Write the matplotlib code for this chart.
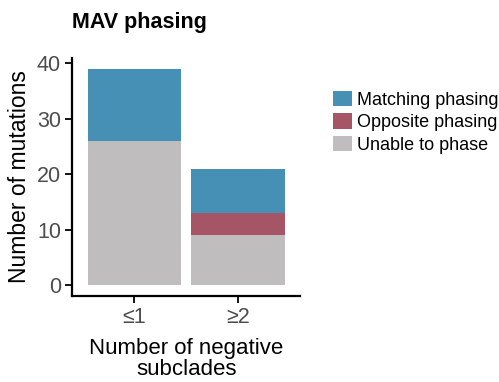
import numpy as np
import matplotlib.pyplot as plt

plt.rcParams['font.family'] = ['Liberation Sans', 'DejaVu Sans']

categories = ["≤1", "≥2"]
unable = [26, 9]
opposite = [0, 4]
matching = [13, 8]

c_match = "#4790B5"
c_opp = "#A65566"
c_unable = "#BFBDBE"

fig = plt.figure(figsize=(4.99, 3.82), dpi=100)
ax = fig.add_axes([0.1443, 0.225, 0.457, 0.623])

x = np.arange(1, len(categories) + 1)
w = 0.9
ax.bar(x, unable, w, color=c_unable, label="Unable to phase")
ax.bar(x, opposite, w, bottom=unable, color=c_opp, label="Opposite phasing")
bottom2 = np.array(unable) + np.array(opposite)
ax.bar(x, matching, w, bottom=bottom2, color=c_match, label="Matching phasing")

ax.set_xlim(0.4, 2.6)
ax.set_ylim(-1.95, 40.95)
ax.set_yticks([0, 10, 20, 30, 40])
ax.set_xticks(x)
ax.set_xticklabels(categories)

for s in ["top", "right"]:
    ax.spines[s].set_visible(False)
for s in ["left", "bottom"]:
    ax.spines[s].set_linewidth(1.6)
ax.tick_params(axis="both", length=5, width=1.3, labelsize=15.5, labelcolor="#4D4D4D", pad=3)

ax.set_ylabel("Number of mutations", fontsize=16.5, labelpad=4)
fig.text(0.373, 0.06, "Number of negative\nsubclades", fontsize=16, ha="center",
         va="center", linespacing=0.95)
fig.text(0.144, 0.942, "MAV phasing", fontsize=15.5, fontweight="bold", va="center")

h, l = ax.get_legend_handles_labels()
ax.legend(h[::-1], l[::-1], loc="center left", bbox_to_anchor=(1.145, 0.731),
          frameon=False, fontsize=13, handlelength=1.05, handleheight=0.95,
          handletextpad=0.3, labelspacing=0.25, borderaxespad=0, borderpad=0)

fig.savefig("out.png", dpi=100)
